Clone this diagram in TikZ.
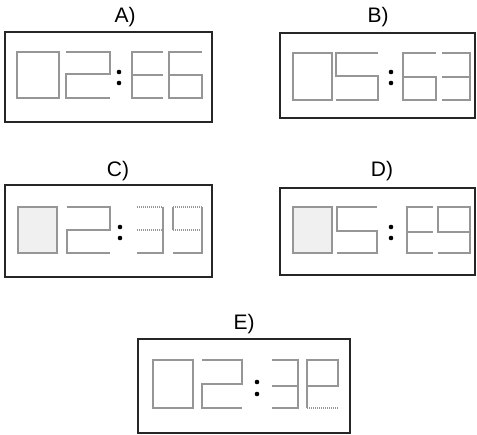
\documentclass[tikz,border=0pt]{standalone}
\usepackage{fontspec}
\setmainfont{Liberation Sans}
\usetikzlibrary{positioning}
\definecolor{ClockInk}{HTML}{262626}
\definecolor{SegGray}{HTML}{969696}

% corners of one seven-segment digit, then the path given in #6
\newcommand{\clockdigit}[6]{%
  \coordinate (tl) at (#1,#3); \coordinate (tr) at (#2,#3);
  \coordinate (ml) at (#1,#4); \coordinate (mr) at (#2,#4);
  \coordinate (bl) at (#1,#5); \coordinate (br) at (#2,#5);
  #6}

\begin{document}
\begin{tikzpicture}[
  x=1pt, y=-1pt,
  font=\fontsize{21}{25}\selectfont,
  clock/.style={rectangle, draw=ClockInk, line width=1.3pt, fill=white, inner sep=0pt},
  tag/.style={text=black, inner sep=0pt},
  seg/.style={draw=SegGray, line width=1.2pt},
  segdot/.style={seg, dash pattern=on 1.4pt off 0.6pt},
  colondot/.style={circle, fill=black, inner sep=0pt, minimum size=4.6pt},
]
\useasboundingbox (0,0) rectangle (477,435);

% --- clock frames ---
\node[clock, minimum width=207pt, minimum height=90pt] (boxA) at (108.5,77) {};
\node[clock, minimum width=195pt, minimum height=85pt] (boxB) at (377.5,75.5) {};
\node[clock, minimum width=207pt, minimum height=92pt] (boxC) at (108.5,231) {};
\node[clock, minimum width=195pt, minimum height=87pt] (boxD) at (377.5,231.5) {};
\node[clock, minimum width=212pt, minimum height=94pt] (boxE) at (244,386) {};

% --- answer letters ---
\node[tag] (labA) at (125,17) {A)};
\node[tag] (labB) at (378,17) {B)};
\node[tag] (labC) at (118,171) {C)};
\node[tag] (labD) at (382,171) {D)};
\node[tag] (labE) at (244,324) {E)};

% --- A) 02:E6 ---
\clockdigit{17}{59}{52}{74}{98}{\draw[seg] (tl) rectangle (br);}
\clockdigit{66}{110}{52}{74}{98}{\draw[seg] (tl) -- (tr) -- (mr) -- (ml) -- (bl) -- (br);}
\node[colondot] (dotA1) at (119,72) {};
\node[colondot] (dotA2) at (119,83) {};
\clockdigit{132}{163}{52}{75}{98}{\draw[seg] (tr) -- (tl) -- (bl) -- (br) (ml) -- (mr);}
\clockdigit{169}{202}{52}{75}{98}{\draw[seg] (tr) -- (tl) -- (bl) -- (br) -- (mr) -- (ml);}

% --- B) 05:63 ---
\clockdigit{293}{332}{53}{76}{100}{\draw[seg] (tl) rectangle (br);}
\clockdigit{336}{378}{53}{76}{100}{\draw[seg] (tr) -- (tl) -- (ml) -- (mr) -- (br) -- (bl);}
\node[colondot] (dotB1) at (391,72) {};
\node[colondot] (dotB2) at (391,83) {};
\clockdigit{403}{436}{53}{77}{100}{\draw[seg] (tr) -- (tl) -- (bl) -- (br) -- (mr) -- (ml);}
\clockdigit{442}{470}{53}{77}{100}{\draw[seg] (tl) -- (tr) -- (br) -- (bl) (ml) -- (mr);}

% --- C) 02:39 ---
\clockdigit{18}{57}{207}{230}{253}{\draw[seg, fill=black!6] (tl) rectangle (br);}
\clockdigit{67}{110}{207}{230}{253}{\draw[seg] (tl) -- (tr) -- (mr) -- (ml) -- (bl) -- (br);}
\node[colondot] (dotC1) at (120,227) {};
\node[colondot] (dotC2) at (120,238) {};
\clockdigit{137}{163}{207}{230}{253}{\draw[seg] (tr) -- (br) -- (bl);
  \draw[segdot] (tl) -- (tr) (ml) -- (mr);}
\clockdigit{173}{202}{207}{230}{253}{\draw[seg] (ml) -- (tl) (tr) -- (br) -- (bl);
  \draw[segdot] (tl) -- (tr) (ml) -- (mr);}

% --- D) 05:E9 ---
\clockdigit{293}{332}{207}{231}{253}{\draw[seg, fill=black!6] (tl) rectangle (br);}
\clockdigit{337}{377}{207}{231}{253}{\draw[seg] (tr) -- (tl) -- (ml) -- (mr) -- (br) -- (bl);}
\node[colondot] (dotD1) at (391,227) {};
\node[colondot] (dotD2) at (391,238) {};
\clockdigit{407}{433}{207}{232}{253}{\draw[seg] (tr) -- (tl) -- (bl) -- (br) (ml) -- (mr);}
\clockdigit{438}{470}{207}{232}{253}{\draw[seg] (mr) -- (ml) -- (tl) -- (tr) -- (br) -- (bl);}

% --- E) 02:3P ---
\clockdigit{153}{193}{360}{384}{408}{\draw[seg] (tl) rectangle (br);}
\clockdigit{202}{242}{360}{384}{408}{\draw[seg] (tl) -- (tr) -- (mr) -- (ml) -- (bl) -- (br);}
\node[colondot] (dotE1) at (257,382) {};
\node[colondot] (dotE2) at (257,394) {};
\clockdigit{272}{298}{360}{386}{408}{\draw[seg] (tl) -- (tr) -- (br) -- (bl) (ml) -- (mr);}
\clockdigit{307}{338}{360}{386}{408}{\draw[seg] (bl) -- (tl) -- (tr) -- (mr) -- (ml);
  \draw[segdot] (bl) -- (br);}

\end{tikzpicture}
\end{document}
